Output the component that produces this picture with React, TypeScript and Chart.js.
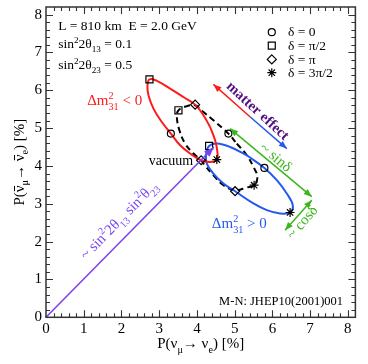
import React, { useEffect, useRef } from 'react';
import { Chart, registerables } from 'chart.js';

Chart.register(...registerables);

// ---------- axes ----------
const X_TICKS = [0, 1, 2, 3, 4, 5, 6, 7, 8];
const Y_TICKS = [0, 1, 2, 3, 4, 5, 6, 7, 8];
const AXIS_MIN = 0;
const AXIS_MAX = 8.2;
const MINOR_STEP = 0.2;

// ---------- trajectories (P(nu->e) %, P(nubar->ebar) %) ----------
const redEllipse: [number, number][] = [
  [4.350, 5.029], [4.482, 4.678], [4.543, 4.369], [4.527, 4.169], [4.350, 4.106],
  [4.111, 4.150], [3.820, 4.327], [3.555, 4.546], [3.309, 4.855], [3.070, 5.161],
  [2.848, 5.515], [2.715, 5.865], [2.689, 6.129], [2.742, 6.288], [2.938, 6.250],
  [3.290, 6.042], [3.642, 5.821], [3.952, 5.620], [4.172, 5.338], [4.350, 5.029],
];
const vacuumEllipse: [number, number][] = [
  [5.057, 4.591], [5.322, 4.282], [5.497, 3.974], [5.603, 3.710], [5.515, 3.491],
  [5.322, 3.430], [5.012, 3.359], [4.702, 3.491], [4.437, 3.755], [4.172, 4.063],
  [4.111, 4.150], [3.907, 4.327], [3.687, 4.591], [3.536, 4.942], [3.468, 5.293],
  [3.510, 5.470], [3.714, 5.575], [3.952, 5.602], [4.172, 5.425], [4.437, 5.206],
  [4.660, 5.013], [4.834, 4.855], [5.057, 4.591],
];
const blueEllipse: [number, number][] = [
  [5.322, 4.282], [5.788, 3.947], [6.117, 3.623], [6.381, 3.272], [6.540, 2.963],
  [6.469, 2.770], [6.204, 2.744], [5.852, 2.831], [5.497, 3.008], [5.012, 3.332],
  [4.702, 3.536], [4.437, 3.799], [4.262, 4.063], [4.244, 4.327], [4.323, 4.528],
  [4.527, 4.591], [4.880, 4.501], [5.322, 4.282],
];

// markers: [red (dm2<0), vacuum, blue (dm2>0)]
const deltaZero: [number, number][] = [[3.309, 4.855], [4.834, 4.855], [5.788, 3.947]];
const deltaHalfPi: [number, number][] = [[2.742, 6.288], [3.510, 5.470], [4.323, 4.528]];
const deltaPi: [number, number][] = [[3.952, 5.620], [4.111, 4.150], [5.012, 3.332]];
const deltaThreeHalfPi: [number, number][] = [[4.527, 4.169], [5.515, 3.491], [6.469, 2.770]];

// arrows
const vacuumVector: [number, number][] = [[0, 0], [4.45, 4.50]];
const matterArrowRed: [number, number][] = [[5.414, 5.293], [4.437, 6.155]];
const matterArrowBlue: [number, number][] = [[5.414, 5.293], [6.382, 4.459]];
const sinArrow: [number, number][] = [[4.880, 4.987], [7.044, 3.187]];
const cosArrow: [number, number][] = [[7.044, 3.095], [6.336, 2.303]];

const legendLabels = ['δ = 0', 'δ = π/2', 'δ = π', 'δ = 3π/2'];
const legendStyles = ['circle', 'rect', 'rectRot', 'star'];

// ---------- styles ----------
const FONT = '"Liberation Serif", "Times New Roman", Times, serif';
const RED = '#ff1a1a';
const BLUE = '#2459ee';
const GREEN = '#3bb71c';
const VIOLET = '#7a45ef';
const DARKPURPLE = '#4f1080';
const FRAME = '#333333';

const pts = (a: [number, number][]) => a.map(([x, y]) => ({ x, y }));
const f = (size: number, bold = false) => `${bold ? 'bold ' : ''}${size}px ${FONT}`;

type Seg = { t?: string; sup?: string; sub?: string; bar?: boolean };

function drawRich(
  ctx: CanvasRenderingContext2D,
  segs: Seg[],
  x: number,
  y: number,
  o: { size: number; color: string; align?: 'left' | 'center' | 'right'; angle?: number; bold?: boolean; middle?: boolean }
) {
  const { size, color, align = 'left', angle = 0, bold = false, middle = false } = o;
  const small = size * 0.68;
  ctx.save();
  ctx.translate(x, y);
  ctx.rotate((angle * Math.PI) / 180);
  const widths = segs.map((s) => {
    ctx.font = f(size, bold);
    const w = s.t ? ctx.measureText(s.t).width : 0;
    ctx.font = f(small, bold);
    const ws = Math.max(s.sup ? ctx.measureText(s.sup).width : 0, s.sub ? ctx.measureText(s.sub).width : 0);
    return [w, ws];
  });
  const total = widths.reduce((acc, [a, b]) => acc + a + b, 0);
  let cx = align === 'left' ? 0 : align === 'center' ? -total / 2 : -total;
  const by = middle ? size * 0.32 : 0;
  ctx.fillStyle = color;
  ctx.strokeStyle = color;
  ctx.textBaseline = 'alphabetic';
  ctx.textAlign = 'left';
  segs.forEach((s, i) => {
    const [w, ws] = widths[i];
    if (s.t) {
      ctx.font = f(size, bold);
      ctx.fillText(s.t, cx, by);
      if (s.bar) {
        ctx.lineWidth = 1;
        ctx.beginPath();
        ctx.moveTo(cx + 1, by - size * 0.62);
        ctx.lineTo(cx + w - 0.5, by - size * 0.62);
        ctx.stroke();
      }
    }
    cx += w;
    ctx.font = f(small, bold);
    if (s.sup) ctx.fillText(s.sup, cx, by - size * 0.42);
    if (s.sub) ctx.fillText(s.sub, cx, by + size * 0.3);
    cx += ws;
  });
  ctx.restore();
}

function drawArrow(
  ctx: CanvasRenderingContext2D,
  x1: number, y1: number, x2: number, y2: number,
  color: string, width: number, headStart: boolean, headEnd: boolean, len = 8, hw = 3.2
) {
  ctx.save();
  ctx.strokeStyle = color;
  ctx.fillStyle = color;
  ctx.lineWidth = width;
  ctx.beginPath();
  ctx.moveTo(x1, y1);
  ctx.lineTo(x2, y2);
  ctx.stroke();
  const head = (ax: number, ay: number, bx: number, by: number) => {
    const a = Math.atan2(ay - by, ax - bx);
    ctx.beginPath();
    ctx.moveTo(ax, ay);
    ctx.lineTo(ax - len * Math.cos(a) + hw * Math.sin(a), ay - len * Math.sin(a) - hw * Math.cos(a));
    ctx.lineTo(ax - len * Math.cos(a) - hw * Math.sin(a), ay - len * Math.sin(a) + hw * Math.cos(a));
    ctx.closePath();
    ctx.fill();
  };
  if (headEnd) head(x2, y2, x1, y1);
  if (headStart) head(x1, y1, x2, y2);
  ctx.restore();
}

function drawMarker(ctx: CanvasRenderingContext2D, style: string, x: number, y: number) {
  ctx.save();
  ctx.strokeStyle = '#000';
  ctx.lineWidth = 1.2;
  ctx.beginPath();
  if (style === 'circle') ctx.arc(x, y, 3.5, 0, Math.PI * 2);
  else if (style === 'rect') ctx.rect(x - 3.5, y - 3.5, 7, 7);
  else if (style === 'rectRot') {
    ctx.moveTo(x, y - 4.5); ctx.lineTo(x + 4.5, y); ctx.lineTo(x, y + 4.5); ctx.lineTo(x - 4.5, y); ctx.closePath();
  } else {
    for (let k = 0; k < 4; k++) {
      const a = (k * Math.PI) / 4;
      ctx.moveTo(x - 4.5 * Math.cos(a), y - 4.5 * Math.sin(a));
      ctx.lineTo(x + 4.5 * Math.cos(a), y + 4.5 * Math.sin(a));
    }
  }
  ctx.stroke();
  ctx.restore();
}

const overlay = {
  id: 'overlay',
  afterDatasetsDraw(chart: any) {
    const ctx: CanvasRenderingContext2D = chart.ctx;
    const xs = chart.scales.x;
    const ys = chart.scales.y;
    const px = (v: number) => xs.getPixelForValue(v);
    const py = (v: number) => ys.getPixelForValue(v);
    const { left, right, top, bottom } = chart.chartArea;

    // arrows
    const A = (p: [number, number][], color: string, w: number, hs: boolean, he: boolean, len?: number, hw?: number) =>
      drawArrow(ctx, px(p[0][0]), py(p[0][1]), px(p[1][0]), py(p[1][1]), color, w, hs, he, len, hw);
    A(vacuumVector, VIOLET, 1.6, false, true, 10, 3.8);
    A(matterArrowRed, RED, 1.5, false, true);
    A(matterArrowBlue, BLUE, 1.5, false, true);
    A(sinArrow, GREEN, 1.5, true, true);
    A(cosArrow, GREEN, 1.5, true, true);

    // frame
    ctx.save();
    ctx.strokeStyle = FRAME;
    ctx.lineWidth = 1.5;
    ctx.strokeRect(left, top, right - left, bottom - top);
    ctx.lineWidth = 1.1;
    const n = Math.round((AXIS_MAX - AXIS_MIN) / MINOR_STEP);
    ctx.beginPath();
    for (let i = 1; i < n; i++) {
      const v = AXIS_MIN + i * MINOR_STEP;
      const isMajorX = X_TICKS.some((t) => Math.abs(t - v) < 1e-6);
      const isMajorY = Y_TICKS.some((t) => Math.abs(t - v) < 1e-6);
      const lx = isMajorX ? 7 : 4;
      const ly = isMajorY ? 7 : 4;
      const x = Math.round(px(v)) + 0.5;
      const y = Math.round(py(v)) + 0.5;
      ctx.moveTo(x, bottom); ctx.lineTo(x, bottom - lx);
      ctx.moveTo(x, top); ctx.lineTo(x, top + lx);
      ctx.moveTo(left, y); ctx.lineTo(left + ly, y);
      ctx.moveTo(right, y); ctx.lineTo(right - ly, y);
    }
    ctx.stroke();
    ctx.restore();

    // tick labels
    ctx.save();
    ctx.fillStyle = '#000';
    ctx.font = f(15);
    ctx.textAlign = 'center';
    ctx.textBaseline = 'middle';
    X_TICKS.forEach((t) => ctx.fillText(String(t), px(t), bottom + 11.5));
    ctx.textAlign = 'right';
    Y_TICKS.forEach((t) => ctx.fillText(String(t), left - 4, py(t)));
    ctx.restore();

    // axis titles
    drawRich(ctx, [{ t: 'P(ν', sub: 'μ' }, { t: '→ ν', sub: 'e' }, { t: ') [%]' }], (left + right) / 2, bottom + 26, {
      size: 15, color: '#000', align: 'center', middle: true,
    });
    drawRich(
      ctx,
      [{ t: 'P(' }, { t: 'ν', bar: true, sub: 'μ' }, { t: '→ ' }, { t: 'ν', bar: true, sub: 'e' }, { t: ') [%]' }],
      19, py(4.1), { size: 15, color: '#000', align: 'center', angle: -90, middle: true }
    );

    // parameter text
    drawRich(ctx, [{ t: 'L = 810 km  E = 2.0 GeV' }], px(0.323), py(7.58), { size: 13.5, color: '#000' });
    drawRich(ctx, [{ t: 'sin', sup: '2' }, { t: '2θ', sub: '13' }, { t: ' = 0.1' }], px(0.323), py(7.106), { size: 13.5, color: '#000' });
    drawRich(ctx, [{ t: 'sin', sup: '2' }, { t: '2θ', sub: '23' }, { t: ' = 0.5' }], px(0.323), py(6.552), { size: 13.5, color: '#000' });

    // legend
    const legendY = [7.536, 7.177, 6.815, 6.464];
    legendLabels.forEach((lab, i) => {
      drawMarker(ctx, legendStyles[i], px(5.984), py(legendY[i]));
      drawRich(ctx, [{ t: lab }], px(6.413), py(legendY[i]), { size: 13.5, color: '#000', middle: true });
    });

    // curve labels
    drawRich(ctx, [{ t: 'Δm', sup: '2', sub: '31' }, { t: ' < 0' }], px(1.091), py(5.61), { size: 15, color: RED });
    drawRich(ctx, [{ t: 'Δm', sup: '2', sub: '31' }, { t: ' > 0' }], px(4.395), py(2.356), { size: 15, color: BLUE });
    drawRich(ctx, [{ t: 'vacuum' }], px(3.899), py(4.02), { size: 14, color: '#000', align: 'right' });
    drawRich(ctx, [{ t: 'matter effect' }], px(5.62), py(5.46), {
      size: 14.5, color: DARKPURPLE, align: 'center', angle: 42.5, bold: true, middle: true,
    });
    drawRich(ctx, [{ t: '~ sinδ' }], px(6.098), py(4.23), { size: 15, color: GREEN, align: 'center', angle: 40, middle: true });
    drawRich(ctx, [{ t: '~ cosδ' }], px(6.787), py(2.515), { size: 15, color: GREEN, align: 'center', angle: -49, middle: true });
    drawRich(
      ctx,
      [{ t: '~ sin', sup: '2' }, { t: '2θ', sub: '13' }, { t: ' sin', sup: '2' }, { t: 'θ', sub: '23' }],
      px(1.926), py(2.567), { size: 15, color: VIOLET, align: 'center', angle: -45.5, middle: true }
    );
    drawRich(ctx, [{ t: 'M-N: JHEP10(2001)001' }], px(7.873), py(0.325), { size: 12.5, color: '#000', align: 'right' });
  },
};

const markerDs = (data: [number, number][], style: string, radius: number) => ({
  data: pts(data),
  showLine: false,
  pointStyle: style,
  pointRadius: radius,
  pointHoverRadius: radius,
  pointBorderColor: '#000',
  pointBackgroundColor: 'rgba(0,0,0,0)',
  pointBorderWidth: 1.2,
});

const lineDs = (data: [number, number][], color: string, dash: number[] = []) => ({
  data: pts(data),
  showLine: true,
  borderColor: color,
  borderWidth: 2,
  borderDash: dash,
  pointRadius: 0,
  tension: 0.4,
  fill: false,
});

export default function App() {
  const ref = useRef<HTMLCanvasElement>(null);
  useEffect(() => {
    const chart = new Chart(ref.current as HTMLCanvasElement, {
      type: 'scatter',
      data: {
        datasets: [
          markerDs(deltaZero, 'circle', 3.5),
          markerDs(deltaHalfPi, 'rect', 5),
          markerDs(deltaPi, 'rectRot', 4.5),
          markerDs(deltaThreeHalfPi, 'star', 4.5),
          lineDs(redEllipse, RED),
          lineDs(blueEllipse, BLUE),
          lineDs(vacuumEllipse, '#000', [6, 4]),
        ] as any,
      },
      options: {
        responsive: false,
        animation: false,
        devicePixelRatio: 1,
        layout: { padding: { left: 46, right: 12.6, top: 7, bottom: 46.7 } },
        scales: {
          x: { type: 'linear', min: AXIS_MIN, max: AXIS_MAX, display: false },
          y: { type: 'linear', min: AXIS_MIN, max: AXIS_MAX, display: false },
        },
        plugins: { legend: { display: false }, tooltip: { enabled: false } },
      },
      plugins: [overlay],
    });
    return () => chart.destroy();
  }, []);
  return (
    <div style={{ position: 'absolute', left: 0, top: 0, width: 368, height: 364, background: '#fff' }}>
      <canvas ref={ref} width={368} height={364} style={{ display: 'block' }} />
    </div>
  );
}
